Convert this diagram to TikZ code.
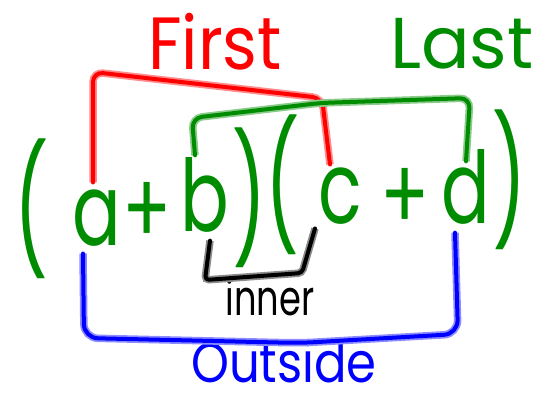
\documentclass[tikz,border=0pt]{standalone}
\usepackage{fontspec}
\setmainfont{Poppins}
\usepackage{xcolor}
\usepackage{tikz}
\definecolor{penred}{RGB}{255,0,0}
\definecolor{pengreen}{RGB}{0,140,0}
\definecolor{penblue}{RGB}{0,0,255}
\definecolor{penblack}{RGB}{0,0,0}

\begin{document}
\begin{tikzpicture}[x=1pt, y=-1pt,
    pen/.style={draw=#1, line width=4pt, line cap=round, line join=round, preaction={draw=#1!45, line width=7.5pt}},
    term/.style={text=pengreen, inner sep=0pt, xscale=0.72, font=\fontsize{100}{100}\selectfont},
    paren/.style={text=pengreen, inner sep=0pt, xscale=0.6, font=\fontsize{125}{125}\selectfont},
    tag/.style={text=#1, inner sep=0pt}]
    \useasboundingbox (0,0) rectangle (537,403);

    \node [paren] (lpar) at (32,209) {(};
    \node [term] (a) at (97,218) {a};
    \node [term] (plusl) at (147,213) {+};
    \node [term] (b) at (205,195) {b};
    \node [paren] (rpin) at (250,198) {)};
    \node [paren] (lpin) at (283,185) {(};
    \node [term] (c) at (340,196) {c};
    \node [term] (plusr) at (405,199) {+};
    \node [term] (d) at (466,187) {d};
    \node [paren] (rpar) at (510,180) {)};

    \node [tag=penred, font=\fontsize{74}{74}\selectfont, xscale=0.9] (first) at (215,42) {First};
    \node [tag=pengreen, font=\fontsize{72}{72}\selectfont, anchor=west] (last) at (390,44) {Last};
    \node [tag=penblack, font=\fontsize{49}{49}\selectfont, xscale=0.72] (inner) at (270,297) {inner};
    \node [tag=penblue, font=\fontsize{56}{56}\selectfont, xscale=0.86] (outside) at (284,361) {Outside};

    \draw [pen=penred, rounded corners=10pt] ([xshift=-4pt,yshift=7pt]a.north) -- (93,72) -- (322,98) -- ([xshift=-10pt,yshift=3pt]c.north);
    \draw [pen=pengreen, rounded corners=10pt] ([xshift=-10pt,yshift=2pt]b.north) -- (192,118) -- (320,103) -- (470,98) -- ([yshift=-12pt]d.north);
    \draw [pen=penblack, rounded corners=4pt] ([xshift=5pt,yshift=-8pt]b.south) -- (205,280) -- (302,273) -- ([xshift=-25pt,yshift=-4pt]c.south);
    \draw [pen=penblue, rounded corners=14pt] ([xshift=-14pt,yshift=-7pt]a.south) -- (84,338) -- (300,343) -- (458,334) -- ([xshift=-11pt,yshift=-8pt]d.south);
\end{tikzpicture}
\end{document}
